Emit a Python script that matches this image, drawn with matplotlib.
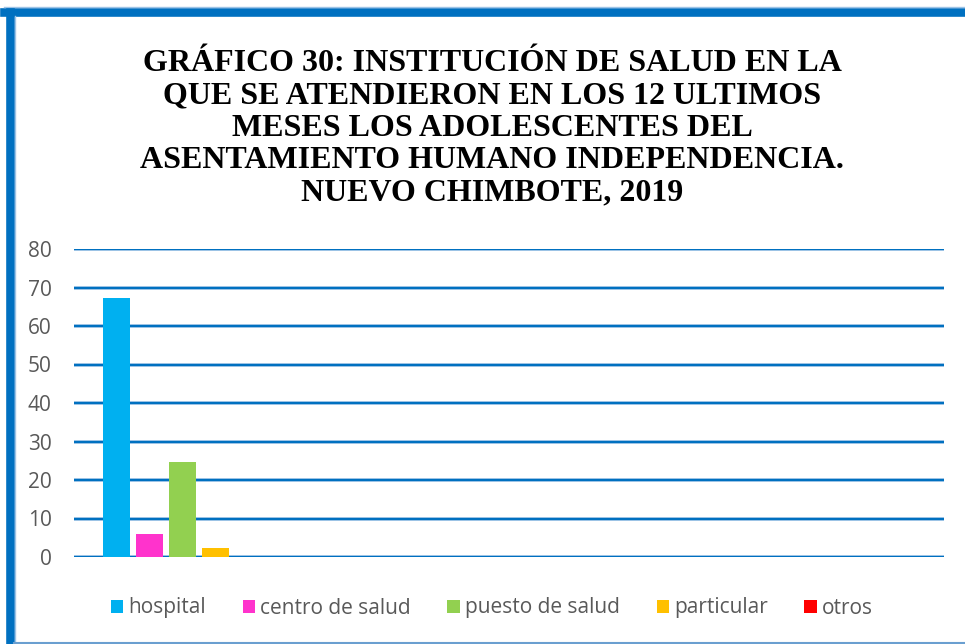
import matplotlib
matplotlib.use("Agg")
from matplotlib import pyplot as plt
from matplotlib.patches import Patch
from matplotlib.lines import Line2D

# Data
series = ["hospital", "centro de salud", "puesto de salud", "particular", "otros"]
values = [67.2, 6.0, 24.7, 2.3, 0.0]
colors = ["#00B0F0", "#FF33CC", "#92D050", "#FFC000", "#FF0000"]
yticks = [0, 10, 20, 30, 40, 50, 60, 70, 80]
title = ("GRÁFICO 30: INSTITUCIÓN DE SALUD EN LA\n"
         "QUE SE ATENDIERON EN LOS 12 ULTIMOS\n"
         "MESES LOS ADOLESCENTES DEL\n"
         "ASENTAMIENTO HUMANO INDEPENDENCIA.\n"
         "NUEVO CHIMBOTE, 2019")

W, H = 965, 644
fig = plt.figure(figsize=(W / 100, H / 100), dpi=100)

# Frame lines (blue border at top and left, thin at bottom)
fig.add_artist(Line2D([4 / W, 1], [1 - 12 / H, 1 - 12 / H], color="#0070C0", lw=6.2))
fig.add_artist(Line2D([4 / W, 1], [1 - 7 / H, 1 - 7 / H], color="#9DC3E6", lw=1))
fig.add_artist(Line2D([10 / W, 10 / W], [0, 1 - 12 / H], color="#0070C0", lw=6.2))
fig.add_artist(Line2D([14.5 / W, 14.5 / W], [0, 1 - 16 / H], color="#9DC3E6", lw=1))
fig.add_artist(Line2D([14 / W, 1], [1.2 / H, 1.2 / H], color="#6A9FD0", lw=1.5))

# Title
fig.text(492 / W, 1 - 128.5 / H, title, ha="center", va="center",
         family="Liberation Serif", weight="bold", fontsize=23, linespacing=1.15)

ax = fig.add_axes([74 / W, 87 / H, 870 / W, 308 / H])
ax.set_xlim(0, 4)
ax.set_ylim(0, 80)

for y in yticks:
    ax.axhline(y, color="#9DC3E6", lw=2.6, zorder=1)
    ax.axhline(y, color="#0070C0", lw=1.6, zorder=1)

step = 0.152
width = 0.124
for i, (name, v, c) in enumerate(zip(series, values, colors)):
    ax.bar(0.5 + (i - 2) * step, v, width=width, color=c, zorder=3)

ax.set_yticks(yticks)
ax.set_xticks([])
for s in ax.spines.values():
    s.set_visible(False)
ax.tick_params(axis="y", length=0, pad=16, labelsize=15, labelcolor="#595959")
for lab in ax.get_yticklabels():
    lab.set_family("Open Sans")

handles = [Patch(facecolor=c, edgecolor="none", label=n) for n, c in zip(series, colors)]
leg = fig.legend(handles=handles, loc="center", bbox_to_anchor=(492 / W, 1 - 608 / H),
                 ncol=5, frameon=False, handlelength=0.6, handleheight=0.6,
                 handletextpad=0.25, columnspacing=1.75,
                 prop={"family": "Open Sans", "size": 15})
for t in leg.get_texts():
    t.set_color("#595959")

fig.savefig("out.png", dpi=100)
